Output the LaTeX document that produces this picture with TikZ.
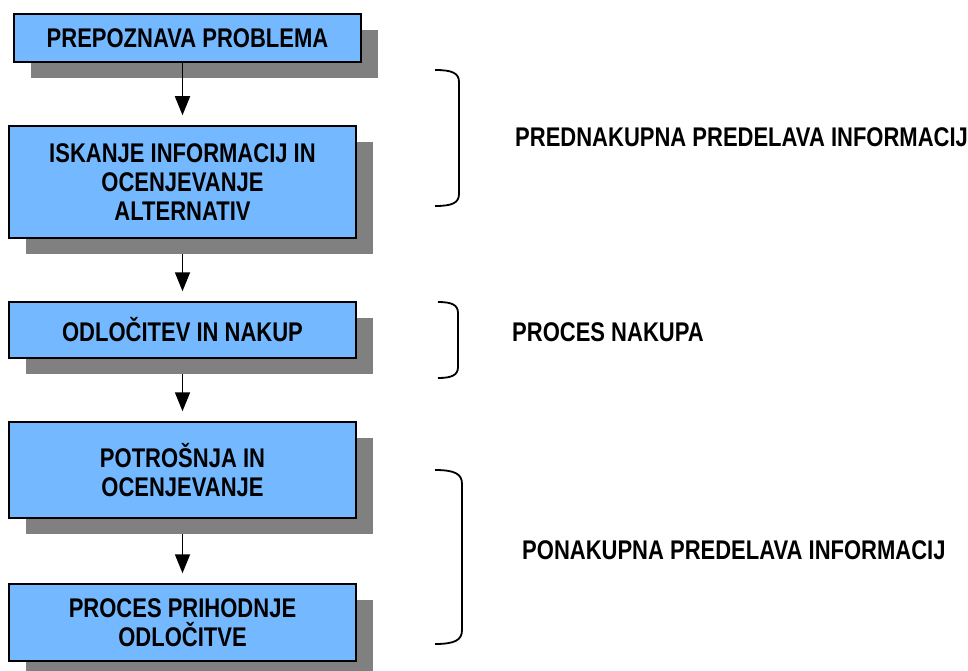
\documentclass[tikz,border=0pt]{standalone}
\usepackage{fontspec}
\setmainfont[FakeStretch=0.815]{Liberation Sans}
\usetikzlibrary{arrows.meta,shadows}
\definecolor{boxblue}{RGB}{116,185,255}
\definecolor{shadowgray}{RGB}{128,128,128}
\begin{document}
\begin{tikzpicture}[x=1pt,y=-1pt,
  every node/.style={font=\fontsize{27}{28.7}\selectfont\bfseries},
  stepbox/.style={draw=black,line width=1.5pt,fill=boxblue,minimum width=347pt,align=center,inner sep=0pt,
    drop shadow={shadow xshift=17pt,shadow yshift=-16pt,fill=shadowgray,opacity=1}},
  flow/.style={line width=1.8pt,-{Triangle[width=15pt,length=19pt]},shorten >=10pt},
  brace/.style={line width=1.8pt},
  sidelabel/.style={anchor=west,inner sep=0pt}]
\useasboundingbox (0,0) rectangle (968,671);
\node[stepbox,minimum height=48pt] (b1) at (187.5,38) {PREPOZNAVA PROBLEMA};
\node[stepbox,minimum height=112pt] (b2) at (182.5,182) {ISKANJE INFORMACIJ IN\\OCENJEVANJE\\ALTERNATIV};
\node[stepbox,minimum height=56pt] (b3) at (182.5,330) {ODLOČITEV IN NAKUP};
\node[stepbox,minimum height=96pt] (b4) at (182.5,470) {POTROŠNJA IN\\OCENJEVANJE};
\node[stepbox,minimum height=77pt] (b5) at (182.5,622.5) {PROCES PRIHODNJE\\ODLOČITVE};
\coordinate (a1) at (182.5,62);
\coordinate (a2) at (182.5,254);
\coordinate (a3) at (182.5,374);
\coordinate (a4) at (182.5,534);
\draw[flow] (a1) -- (b2.north -| a1);
\draw[flow] (a2) -- (b3.north -| a2);
\draw[flow] (a3) -- (b4.north -| a3);
\draw[flow] (a4) -- (b5.north -| a4);
% brackets
\draw[brace] (435,70) .. controls (452,70) and (459,73) .. (459,82) -- (459,194) .. controls (459,203) and (452,206) .. (435,206);
\draw[brace] (438,302) .. controls (452,302) and (458,305) .. (458,313) -- (458,367) .. controls (458,375) and (452,378) .. (438,378);
\draw[brace] (435,470) .. controls (455,470) and (462,474) .. (462,484) -- (462,630) .. controls (462,640) and (455,644) .. (435,644);
\node[sidelabel] (t1) at (515,137) {PREDNAKUPNA PREDELAVA INFORMACIJ};
\node[sidelabel] (t2) at (512,332) {PROCES NAKUPA};
\node[sidelabel] (t3) at (522,550) {PONAKUPNA PREDELAVA INFORMACIJ};
\end{tikzpicture}
\end{document}
